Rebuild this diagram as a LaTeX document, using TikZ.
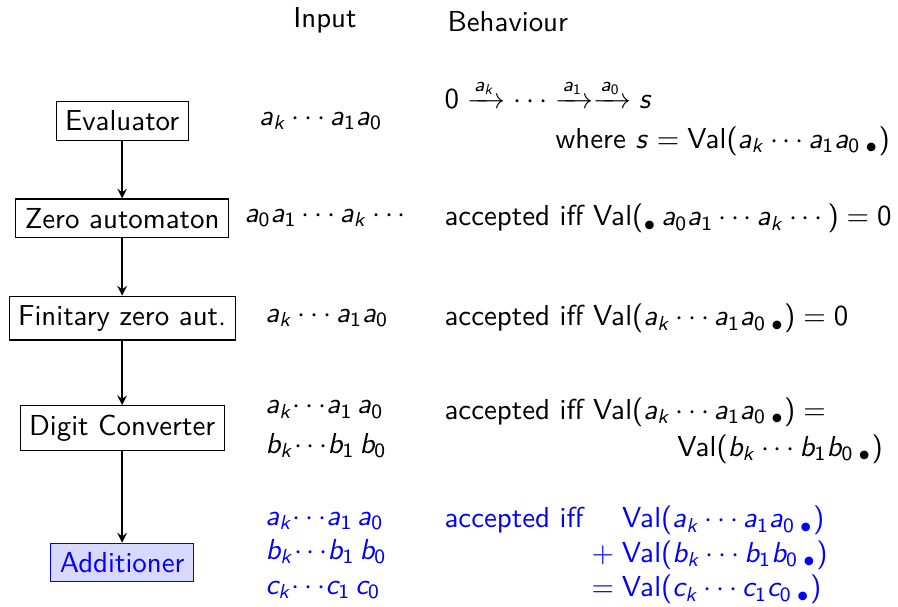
\RequirePackage{fix-cm}
\documentclass[tikz,border=0pt]{standalone}
\usepackage{amsmath}
% sans serif maths, as on slides
\SetSymbolFont{operators}{normal}{OT1}{cmss}{m}{n}
\SetSymbolFont{letters}{normal}{OT1}{cmss}{m}{sl}
\newcommand{\rpt}{\,{}_{\bullet}}
\begin{document}
\begin{tikzpicture}[>=stealth, font=\sffamily\fontsize{10.7}{12.8}\selectfont,
    stage/.style={draw, thin},
    hilite/.style={draw=blue, fill=blue!15, text=blue},
    txt/.style={inner sep=0pt}]
    \useasboundingbox (0,0) rectangle (11.69,-7.90);
    % column headers
    \node (hin) at (4.23,-0.26) {Input};
    \node[txt, anchor=west] (hbeh) at (5.82,-0.28) {Behaviour};
    % stages
    \node[stage] (eval) at (1.59,-1.575) {Evaluator};
    \node[stage] (zero) at (1.59,-2.84) {Zero automaton};
    \node[stage] (fin) at (1.59,-4.14) {Finitary zero aut.};
    \node[stage] (conv) at (1.59,-5.57) {Digit Converter};
    \node[hilite] (add) at (1.59,-7.32) {Additioner};
    \draw[->, semithick] (eval) -- (zero);
    \draw[->, semithick] (zero) -- (fin);
    \draw[->, semithick] (fin) -- (conv);
    \draw[->, semithick] (conv) -- (add);
    % inputs
    \node[txt, anchor=west] (ineval) at (3.37,-1.575) {$a_k\cdots a_1a_0$};
    \node[txt, anchor=west] (inzero) at (3.18,-2.84) {$a_0a_1\cdots a_k\cdots$};
    \node[txt, anchor=west] (infin) at (3.45,-4.14) {$a_k\cdots a_1a_0$};
    \node[txt, anchor=west, align=left] (inconv) at (3.45,-5.59)
        {$a_k{\cdots}a_1\,a_0$\\[2pt] $b_k{\cdots}b_1\,b_0$};
    \node[txt, anchor=west, align=left, text=blue] (inadd) at (3.45,-7.23)
        {$a_k{\cdots}a_1\,a_0$\\ $b_k{\cdots}b_1\,b_0$\\ $c_k{\cdots}c_1\,c_0$};
    % behaviours
    \node[txt, anchor=base west] (beval) at (5.78,-1.41)
        {$0\xrightarrow{a_k}\cdots\xrightarrow{a_1}\xrightarrow{a_0} s$};
    \node[txt, anchor=base east] (bevalw) at (11.59,-1.93)
        {where $s=\operatorname{Val}(a_k\cdots a_1a_0\rpt)$};
    \node[txt, anchor=base west] (bzero) at (5.78,-2.94)
        {accepted iff $\operatorname{Val}({}_{\bullet}\,a_0a_1\cdots a_k\cdots)=0$};
    \node[txt, anchor=base west] (bfin) at (5.78,-4.24)
        {accepted iff $\operatorname{Val}(a_k\cdots a_1a_0\rpt)=0$};
    \node[txt, anchor=base west] (bconv) at (5.78,-5.46)
        {accepted iff $\operatorname{Val}(a_k\cdots a_1a_0\rpt)={}$};
    \node[txt, anchor=base east] (bconvb) at (11.50,-5.94)
        {$\operatorname{Val}(b_k\cdots b_1b_0\rpt)$};
    \node[txt, anchor=west, text=blue] (badd) at (5.78,-7.23)
        {$\begin{array}{@{}l@{\hspace{3pt}}r@{\;}l@{}}
        \text{accepted iff} & & \operatorname{Val}(a_k\cdots a_1a_0\rpt)\\
         & + & \operatorname{Val}(b_k\cdots b_1b_0\rpt)\\
         & = & \operatorname{Val}(c_k\cdots c_1c_0\rpt)
        \end{array}$};
\end{tikzpicture}
\end{document}
